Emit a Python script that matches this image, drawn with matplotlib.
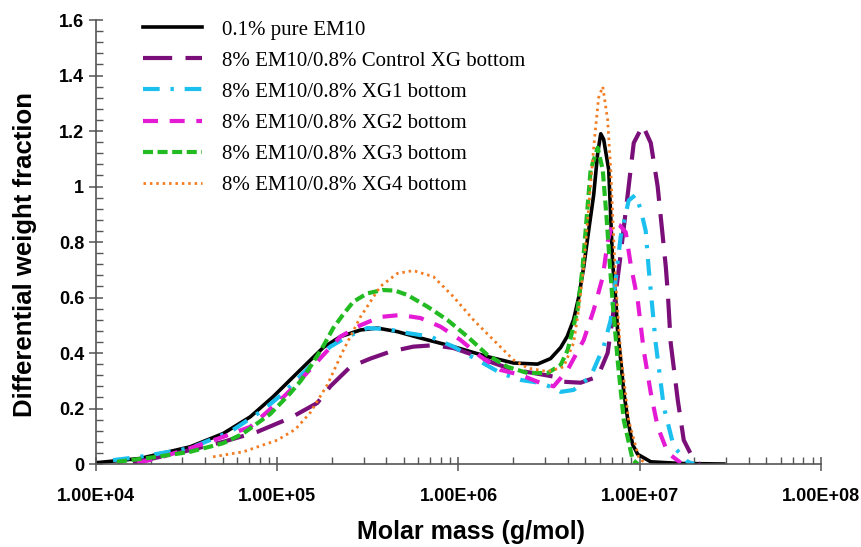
import numpy as np
import matplotlib.pyplot as plt
from matplotlib.ticker import FixedLocator, MultipleLocator, LogLocator, FuncFormatter, NullFormatter

# --- 데이터 (log10 몰질량, 미분 중량분율) ---------------------
labels = ['0.1% pure EM10',
          '8% EM10/0.8% Control XG bottom',
          '8% EM10/0.8% XG1 bottom',
          '8% EM10/0.8% XG2 bottom',
          '8% EM10/0.8% XG3 bottom',
          '8% EM10/0.8% XG4 bottom']

logm_em10 = [4.0, 4.022, 4.243, 4.519, 4.702, 4.851, 4.978, 5.110, 5.254, 5.348, 5.459, 5.552,
             5.663, 5.790, 5.972, 6.160, 6.304, 6.436, 6.508, 6.564, 6.60, 6.635, 6.663, 6.691,
             6.718, 6.746, 6.768, 6.785, 6.801, 6.829, 6.851, 6.867, 6.878, 6.895, 6.912, 6.934,
             6.961, 6.989, 7.061, 7.227, 7.464]
w_em10 = [0.005, 0.006, 0.02, 0.062, 0.11, 0.17, 0.243, 0.328, 0.42, 0.459, 0.483, 0.49,
          0.477, 0.454, 0.423, 0.387, 0.364, 0.36, 0.38, 0.42, 0.46, 0.52, 0.60, 0.71,
          0.84, 0.97, 1.12, 1.19, 1.17, 1.06, 0.72, 0.60, 0.48, 0.375, 0.26, 0.16,
          0.07, 0.035, 0.008, 0.002, 0.0]

logm_ctrl = [4.204, 4.519, 4.702, 4.890, 5.072, 5.221, 5.293, 5.403, 5.514, 5.624, 5.751, 5.862,
             5.972, 6.083, 6.193, 6.304, 6.414, 6.525, 6.564, 6.674, 6.768, 6.823, 6.851, 6.89,
             6.939, 6.967, 7.017, 7.061, 7.099, 7.127, 7.144, 7.155, 7.171, 7.210, 7.243, 7.298, 7.33]
w_ctrl = [0.004, 0.05, 0.08, 0.116, 0.166, 0.22, 0.28, 0.35, 0.38, 0.405, 0.423, 0.428,
          0.418, 0.393, 0.364, 0.339, 0.328, 0.315, 0.297, 0.293, 0.315, 0.40, 0.53, 0.73,
          1.0, 1.157, 1.22, 1.157, 1.0, 0.82, 0.71, 0.615, 0.436, 0.23, 0.086, 0.015, 0.0]

logm_xg1 = [4.094, 4.243, 4.519, 4.740, 4.923, 5.033, 5.144, 5.254, 5.293, 5.387, 5.497, 5.608,
            5.718, 5.845, 5.972, 6.105, 6.232, 6.343, 6.453, 6.525, 6.564, 6.635, 6.729, 6.801,
            6.840, 6.867, 6.895, 6.939, 6.978, 7.006, 7.033, 7.050, 7.088, 7.133, 7.188, 7.265, 7.30]
w_xg1 = [0.014, 0.026, 0.057, 0.116, 0.195, 0.255, 0.328, 0.40, 0.423, 0.459, 0.49, 0.486,
         0.472, 0.459, 0.423, 0.375, 0.328, 0.303, 0.292, 0.274, 0.26, 0.267, 0.315, 0.423,
         0.519, 0.663, 0.82, 0.95, 0.97, 0.915, 0.84, 0.70, 0.436, 0.205, 0.062, 0.008, 0.0]

logm_xg2 = [4.227, 4.337, 4.519, 4.702, 4.851, 5.0, 5.110, 5.25, 5.348, 5.459, 5.569, 5.680,
            5.790, 5.901, 6.011, 6.122, 6.232, 6.343, 6.453, 6.525, 6.602, 6.691, 6.746, 6.796,
            6.823, 6.851, 6.89, 6.923, 6.950, 6.989, 7.022, 7.061, 7.099, 7.155, 7.227]
w_xg2 = [0.004, 0.02, 0.057, 0.098, 0.134, 0.22, 0.29, 0.39, 0.459, 0.50, 0.53, 0.537,
         0.526, 0.495, 0.447, 0.387, 0.339, 0.321, 0.292, 0.28, 0.339, 0.447, 0.555, 0.674,
         0.80, 0.87, 0.86, 0.835, 0.72, 0.59, 0.41, 0.256, 0.134, 0.04, 0.004]

logm_xg3 = [4.116, 4.337, 4.519, 4.702, 4.812, 4.961, 5.072, 5.130, 5.182, 5.254, 5.309, 5.365,
            5.420, 5.497, 5.58, 5.65, 5.718, 5.829, 5.939, 6.050, 6.160, 6.271, 6.381, 6.492,
            6.564, 6.602, 6.657, 6.685, 6.729, 6.768, 6.796, 6.818, 6.835, 6.851, 6.878, 6.912,
            6.961, 6.99]
w_xg3 = [0.008, 0.026, 0.044, 0.075, 0.11, 0.18, 0.255, 0.30, 0.35, 0.425, 0.49, 0.54,
         0.585, 0.615, 0.627, 0.625, 0.609, 0.567, 0.519, 0.459, 0.393, 0.35, 0.328, 0.328,
         0.357, 0.41, 0.555, 0.71, 1.06, 1.14, 1.06, 0.88, 0.72, 0.58, 0.375, 0.158,
         0.015, 0.0]

logm_xg4 = [4.646, 4.812, 5.0, 5.10, 5.182, 5.276, 5.365, 5.459, 5.569, 5.663, 5.751, 5.862,
            5.972, 6.083, 6.193, 6.304, 6.381, 6.492, 6.580, 6.635, 6.663, 6.691, 6.746, 6.773,
            6.796, 6.823, 6.840, 6.856, 6.867, 6.895, 6.939, 6.994, 7.033]
w_xg4 = [0.026, 0.044, 0.086, 0.125, 0.185, 0.285, 0.41, 0.53, 0.64, 0.687, 0.697, 0.675,
         0.603, 0.519, 0.447, 0.375, 0.346, 0.333, 0.35, 0.436, 0.555, 0.71, 1.14, 1.32,
         1.36, 1.24, 1.06, 0.82, 0.66, 0.40, 0.158, 0.025, 0.0]

xtick_vals = [1e4, 1e5, 1e6, 1e7, 1e8]
ytick_vals = [0, 0.2, 0.4, 0.6, 0.8, 1.0, 1.2, 1.4, 1.6]

# --- 스타일 -------------------------------------------------
series = [(logm_em10, w_em10, '#000000', 2.6, '-'),
          (logm_ctrl, w_ctrl, '#7a0f7a', 3.0, (0, (7, 3.2))),
          (logm_xg1, w_xg1, '#1cc0ee', 3.0, (0, (4, 2.6, 0.8, 2.6))),
          (logm_xg2, w_xg2, '#e41ad4', 3.0, (0, (3.6, 2.8))),
          (logm_xg3, w_xg3, '#22bb22', 3.0, (0, (2.4, 1.1))),
          (logm_xg4, w_xg4, '#f27c22', 2.0, (0, (0.9, 1.4)))]

fig = plt.figure(figsize=(8.61, 5.47), dpi=100)
ax = fig.add_axes([0.1115, 0.1517, 0.842, 0.8117])

for (lm, w, c, lw, ls), lab in zip(series, labels):
    ax.plot(10 ** np.asarray(lm), w, color=c, lw=lw, linestyle=ls, label=lab)

ax.set_xscale('log')
ax.set_xlim(1e4, 1e8)
ax.set_ylim(0, 1.6)
ax.xaxis.set_major_locator(FixedLocator(xtick_vals))
ax.xaxis.set_minor_locator(LogLocator(base=10, subs=np.arange(2, 10)))
ax.xaxis.set_minor_formatter(NullFormatter())
ax.xaxis.set_major_formatter(FuncFormatter(lambda v, p: '%.2E' % v))
ax.yaxis.set_major_locator(FixedLocator(ytick_vals))
ax.yaxis.set_minor_locator(MultipleLocator(0.04))
ax.yaxis.set_major_formatter(FuncFormatter(lambda v, p: ('%g' % round(v, 2))))

for s in ['top', 'right']:
    ax.spines[s].set_visible(False)
for s in ['left', 'bottom']:
    ax.spines[s].set_color('#555555')
    ax.spines[s].set_linewidth(1.2)

ax.tick_params(which='major', direction='inout', length=10, width=1.1, color='#555555')
ax.tick_params(which='minor', direction='in', length=5, width=1.0, color='#555555')
for t in ax.get_xticklabels() + ax.get_yticklabels():
    t.set_fontfamily(['Liberation Sans Narrow', 'Liberation Sans'])
    t.set_fontweight('bold')
    t.set_fontsize(13)
ax.tick_params(axis='x', pad=12)

ax.set_xlabel('Molar mass (g/mol)', fontsize=18, fontweight='bold', family='Liberation Sans')
ax.set_ylabel('Differential weight fraction', fontsize=18.5, fontweight='bold', family='Liberation Sans')
ax.xaxis.set_label_coords(0.517, -0.126)
ax.yaxis.set_label_coords(-0.082, 0.472)

ax.legend(loc='upper left', bbox_to_anchor=(0.0395, 1.042), frameon=False,
          prop={'family': 'Liberation Serif', 'size': 15},
          handlelength=2.8, handletextpad=0.95, labelspacing=0.55)

plt.savefig('out.png', dpi=100)
